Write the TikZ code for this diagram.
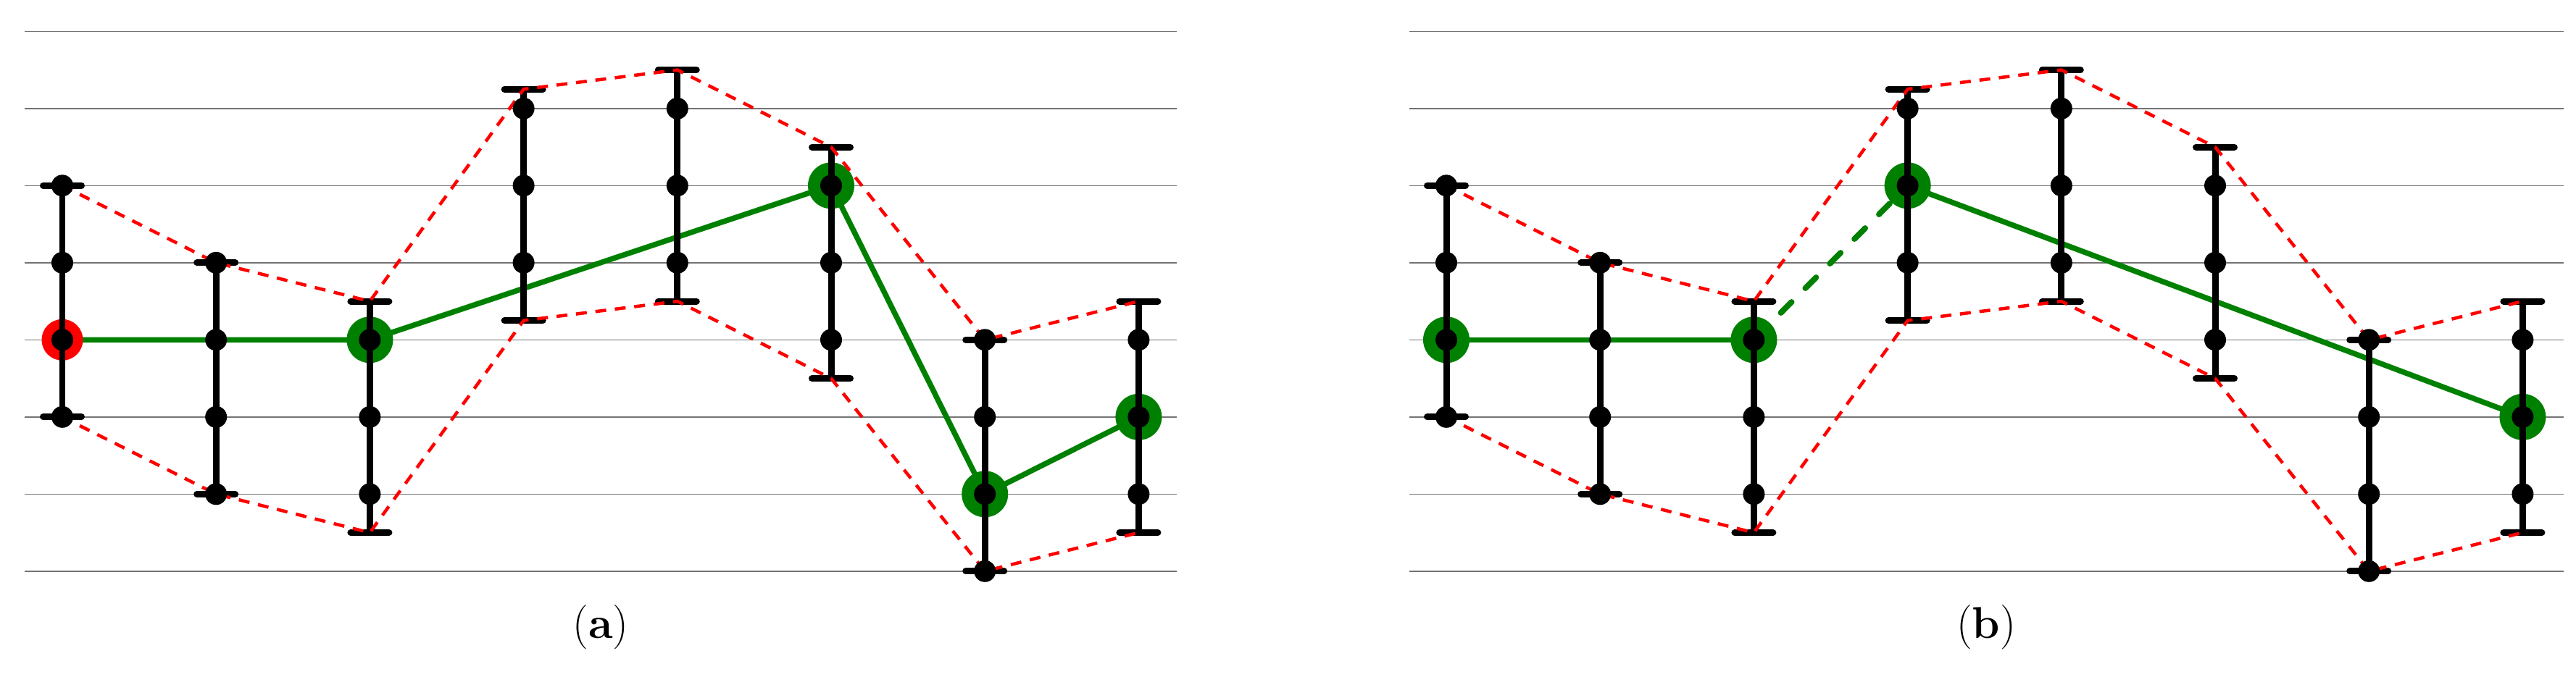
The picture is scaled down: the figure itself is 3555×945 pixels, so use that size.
\documentclass[tikz,border=0pt]{standalone}
\begin{document}
\begin{tikzpicture}[x=0.1mm,y=-0.1mm,
  gridline/.style={draw=black!55,line width=0.45pt},
  gpath/.style={draw=green!50!black,line width=2.13pt},
  gdash/.style={draw=green!50!black,line width=2.28pt,line cap=round,dash pattern=on 5.97pt off 7.68pt,dash phase=12.3pt},
  ghalo/.style={fill=green!50!black},
  rhalo/.style={fill=red},
  errbar/.style={draw=black,line width=2.56pt},
  errcap/.style={draw=black,line width=2.56pt,line cap=round},
  envelope/.style={draw=red,line width=1.28pt,dash pattern=on 4.27pt off 3.41pt},
  dotmark/.style={fill=black},
  caption/.style={font=\fontsize{17.5}{20}\selectfont,inner sep=0pt}]
\useasboundingbox (0,0) rectangle (3555,945);
% coordinates
\foreach \p/\xo in {a/86,b/1996} {
  \foreach \i/\t/\b in {0/2/5,1/3/6,2/3.5/6.5,3/0.75/3.75,4/0.5/3.5,5/1.5/4.5,6/4/7,7/3.5/6.5} {
    \coordinate (\p-\i-T) at ({\xo+212.2*\i},{43.3+106.5*\t});
    \coordinate (\p-\i-B) at ({\xo+212.2*\i},{43.3+106.5*\b});
    \foreach \k in {0,...,7} {
      \coordinate (\p-\i-\k) at ({\xo+212.2*\i},{43.3+106.5*\k});
    }
  }
}
% grid lines
\foreach \k in {0,...,7} {
  \coordinate (gaL\k) at (34,{43.3+106.5*\k});
  \coordinate (gaR\k) at (1624,{43.3+106.5*\k});
  \coordinate (gbL\k) at (1945,{43.3+106.5*\k});
  \coordinate (gbR\k) at (3538,{43.3+106.5*\k});
  \draw[gridline] (gaL\k) -- (gaR\k);
  \draw[gridline] (gbL\k) -- (gbR\k);
}
% green paths
\draw[gpath] (a-0-4) -- (a-1-4) -- (a-2-4) -- (a-5-2) -- (a-6-6) -- (a-7-5);
\draw[gpath] (b-0-4) -- (b-1-4) -- (b-2-4);
\draw[gdash] (b-2-4) -- (b-3-2);
\draw[gpath] (b-3-2) -- (b-7-5);
% highlight halos
\fill[rhalo] (a-0-4) circle[radius=2.85mm];
\foreach \n in {a-2-4,a-5-2,a-6-6,a-7-5,b-0-4,b-2-4,b-3-2,b-7-5} {
  \fill[ghalo] (\n) circle[radius=3.2mm];
}
% error bars
\foreach \p in {a,b} {
  \foreach \i in {0,...,7} {
    \draw[errbar] (\p-\i-T) -- (\p-\i-B);
    \draw[errcap] ([xshift=-2.65mm]\p-\i-T) -- ([xshift=2.65mm]\p-\i-T);
    \draw[errcap] ([xshift=-2.65mm]\p-\i-B) -- ([xshift=2.65mm]\p-\i-B);
  }
  \draw[envelope] (\p-0-T) -- (\p-1-T) -- (\p-2-T) -- (\p-3-T) -- (\p-4-T) -- (\p-5-T) -- (\p-6-T) -- (\p-7-T);
  \draw[envelope] (\p-0-B) -- (\p-1-B) -- (\p-2-B) -- (\p-3-B) -- (\p-4-B) -- (\p-5-B) -- (\p-6-B) -- (\p-7-B);
  \foreach \i/\ks in {0/{2,3,4,5},1/{3,4,5,6},2/{4,5,6},3/{1,2,3},4/{1,2,3},5/{2,3,4},6/{4,5,6,7},7/{4,5,6}} {
    \foreach \k in \ks {
      \fill[dotmark] (\p-\i-\k) circle[radius=1.5mm];
    }
  }
}
% captions
\node[caption] (capa) at (829,866) {(\textbf{a})};
\node[caption] (capb) at (2741,866) {(\textbf{b})};
\end{tikzpicture}
\end{document}
